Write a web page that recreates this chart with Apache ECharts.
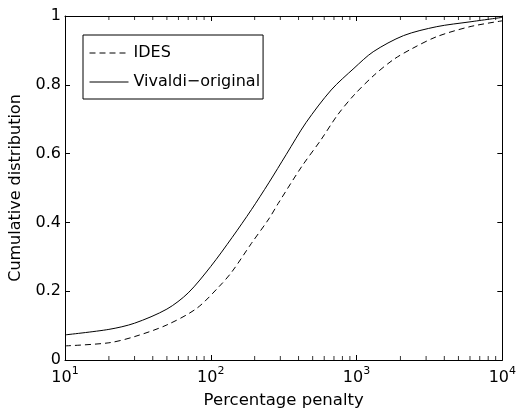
<!DOCTYPE html>
<html>
<head>
<meta charset="utf-8">
<script src="https://cdn.jsdelivr.net/npm/echarts@6/dist/echarts.min.js"></script>
<style>html,body{margin:0;padding:0;background:#fff}#c{width:519px;height:414px}</style>
</head>
<body>
<div id="c"></div>
<script>
var seriesNames = ['IDES', 'Vivaldi\u2212original'];
var idesData = [[10,0.041],[20,0.05],[30,0.068],[50,0.102],[80,0.15],[115,0.215],[140,0.257],[190,0.339],[250,0.41],[290,0.455],[420,0.562],[570,0.64],[740,0.712],[960,0.77],[1320,0.828],[1800,0.874],[2400,0.905],[3550,0.94],[6000,0.969],[10000,0.986]];
var vivaldiData = [[10,0.073],[20,0.089],[30,0.107],[50,0.148],[70,0.195],[100,0.272],[140,0.356],[190,0.437],[250,0.515],[330,0.598],[450,0.69],[670,0.785],[960,0.848],[1300,0.896],[2100,0.943],[3550,0.969],[6000,0.983],[10000,0.996]];
var yTicks = [0, 0.2, 0.4, 0.6, 0.8, 1];
var xMajor = [10, 100, 1000, 10000];
var xMinor = [20,30,40,50,60,70,80,90,200,300,400,500,600,700,800,900,2000,3000,4000,5000,6000,7000,8000,9000];

var FONT = 'DejaVu Sans';
var chart = echarts.init(document.getElementById('c'));
var minorBottom = xMinor.map(function(v){return [v,0];});
var minorTop = xMinor.map(function(v){return [v,1];});

chart.setOption({
  animation: false,
  backgroundColor: '#fff',
  textStyle: {fontFamily: FONT, color: '#000'},
  grid: {left: 65, right: 13, top: 16, bottom: 54},
  legend: {
    data: seriesNames,
    orient: 'vertical',
    left: 83, top: 35,
    backgroundColor: '#fff',
    borderColor: '#000', borderWidth: 1,
    padding: [10, 3, 9, 6],
    itemWidth: 39, itemHeight: 16, itemGap: 13,
    itemStyle: {opacity: 0},
    lineStyle: {width: 1},
    textStyle: {fontFamily: FONT, fontSize: 16, color: '#000'}
  },
  xAxis: [{
    type: 'log', logBase: 10, min: 10, max: 10000,
    name: 'Percentage penalty', nameLocation: 'middle', nameGap: 32,
    nameTextStyle: {fontFamily: FONT, fontSize: 16.5, color: '#000'},
    axisLine: {show: true, onZero: false, lineStyle: {color: '#000', width: 1}},
    axisTick: {show: true, inside: true, length: 5, lineStyle: {color: '#000'}},
    splitLine: {show: false},
    axisLabel: {
      margin: 6,
      formatter: function(v){ return '{b|10}{s|' + Math.round(Math.log10(v)) + '}'; },
      rich: {
        b: {fontFamily: FONT, fontSize: 16, color: '#000'},
        s: {fontFamily: FONT, fontSize: 11, color: '#000', padding: [0,0,12,0]}
      }
    }
  }, {
    type: 'log', logBase: 10, min: 10, max: 10000, position: 'top',
    axisLine: {show: true, onZero: false, lineStyle: {color: '#000', width: 1}},
    axisTick: {show: true, inside: true, length: 5, lineStyle: {color: '#000'}},
    axisLabel: {show: false}, splitLine: {show: false}
  }],
  yAxis: [{
    type: 'value', min: 0, max: 1, interval: 0.2,
    name: 'Cumulative distribution', nameLocation: 'middle', nameGap: 41,
    nameTextStyle: {fontFamily: FONT, fontSize: 16, color: '#000'},
    axisLine: {show: true, onZero: false, lineStyle: {color: '#000', width: 1}},
    axisTick: {show: true, inside: true, length: 5, lineStyle: {color: '#000'}},
    splitLine: {show: false},
    axisLabel: {margin: 4, fontFamily: FONT, fontSize: 16, color: '#000',
      formatter: function(v){ return String(Math.round(v*10)/10); }}
  }, {
    type: 'value', min: 0, max: 1, interval: 0.2, position: 'right',
    axisLine: {show: true, onZero: false, lineStyle: {color: '#000', width: 1}},
    axisTick: {show: true, inside: true, length: 5, lineStyle: {color: '#000'}},
    axisLabel: {show: false}, splitLine: {show: false}
  }],
  series: [{
    name: seriesNames[0], type: 'line', data: idesData, smooth: 0.3,
    symbol: 'none', showSymbol: false,
    lineStyle: {color: '#000', width: 1, type: [6, 4]}, itemStyle: {color: '#000'}
  }, {
    name: seriesNames[1], type: 'line', data: vivaldiData, smooth: 0.3,
    symbol: 'none', showSymbol: false,
    lineStyle: {color: '#000', width: 1, type: 'solid'}, itemStyle: {color: '#000'}
  }, {
    type: 'scatter', data: minorBottom, silent: true, symbol: 'rect',
    symbolSize: [1, 4], symbolOffset: [0, -2], itemStyle: {color: '#000'}, clip: false
  }, {
    type: 'scatter', data: minorTop, silent: true, symbol: 'rect',
    symbolSize: [1, 4], symbolOffset: [0, 2], itemStyle: {color: '#000'}, clip: false
  }]
});
</script>
</body>
</html>
